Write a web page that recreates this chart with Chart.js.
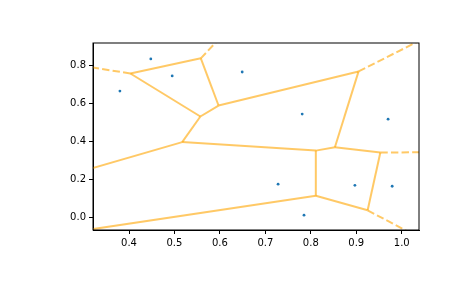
<!DOCTYPE html>
<html>
<head>
<meta charset="utf-8">
<script src="https://cdn.jsdelivr.net/npm/chart.js@4.4.1/dist/chart.umd.min.js"></script>
<style>
    html, body { margin: 0; padding: 0; background: #ffffff; }
    #wrap { width: 465px; height: 288px; position: relative; }
</style>
</head>
<body>
<div id="wrap"><canvas id="voronoi" width="465" height="288"></canvas></div>
<script>
// input points
const pointsX = [0.380, 0.448, 0.495, 0.649, 0.781, 0.970, 0.728, 0.897, 0.979, 0.785];
const pointsY = [0.666, 0.836, 0.746, 0.767, 0.545, 0.518, 0.175, 0.169, 0.164, 0.011];

// voronoi vertices (last two sit outside the view)
const vertexX = [0.403, 0.558, 0.597, 0.557, 0.517, 0.905, 0.853, 0.811, 0.953, 0.811, 0.925, 0.250, 0.250];
const vertexY = [0.759, 0.839, 0.590, 0.532, 0.397, 0.770, 0.370, 0.352, 0.342, 0.114, 0.037, 0.2105, -0.0875];

// finite ridges: pairs of vertex indices
const ridgeFrom = [0, 0, 1, 2, 3, 2, 5, 4, 6, 6, 7, 9, 8, 4, 9];
const ridgeTo   = [1, 3, 2, 3, 4, 5, 6, 7, 7, 8, 9, 10, 10, 11, 12];

// infinite ridges: vertex index + far point
const farFrom = [0, 1, 5, 8, 10];
const farX = [0.250, 0.660, 1.200, 1.200, 1.100];
const farY = [0.818, 1.100, 1.127, 0.345, -0.186];

const xTicks = [0.4, 0.5, 0.6, 0.7, 0.8, 0.9, 1.0];
const yTicks = [0.0, 0.2, 0.4, 0.6, 0.8];

const lineColor = 'rgba(255, 165, 0, 0.6)';

const datasets = [];

datasets.push({
    label: 'points',
    data: pointsX.map((x, i) => ({ x: x, y: pointsY[i] })),
    pointRadius: 1.4,
    pointBackgroundColor: '#1f77b4',
    pointBorderWidth: 0,
    showLine: false,
    order: 2
});

ridgeFrom.forEach((a, i) => {
    const b = ridgeTo[i];
    datasets.push({
        data: [{ x: vertexX[a], y: vertexY[a] }, { x: vertexX[b], y: vertexY[b] }],
        showLine: true,
        borderColor: lineColor,
        borderWidth: 2,
        pointRadius: 0,
        order: 1
    });
});

farFrom.forEach((a, i) => {
    datasets.push({
        data: [{ x: vertexX[a], y: vertexY[a] }, { x: farX[i], y: farY[i] }],
        showLine: true,
        borderColor: lineColor,
        borderWidth: 2,
        borderDash: [7.4, 3.2],
        pointRadius: 0,
        order: 1
    });
});

// top and right spines
const frame = {
    id: 'frame',
    afterDraw(chart) {
        const { ctx, chartArea: a } = chart;
        ctx.save();
        ctx.strokeStyle = '#000000';
        ctx.lineWidth = 1;
        ctx.strokeRect(a.left, a.top, a.right - a.left, a.bottom - a.top);
        ctx.restore();
    }
};

const tickFont = { family: 'DejaVu Sans', size: 10 };

new Chart(document.getElementById('voronoi'), {
    type: 'scatter',
    data: { datasets: datasets },
    options: {
        responsive: false,
        animation: false,
        devicePixelRatio: 1,
        layout: { padding: { top: 43, right: 46, left: 0, bottom: 0 } },
        plugins: { legend: { display: false }, tooltip: { enabled: false } },
        scales: {
            x: {
                type: 'linear',
                min: 0.3208,
                max: 1.038,
                afterBuildTicks: (axis) => { axis.ticks = xTicks.map(v => ({ value: v })); },
                afterFit: (axis) => { axis.height = 58; },
                grid: { drawOnChartArea: false, drawTicks: true, tickLength: 4, color: '#000000' },
                border: { display: true, color: '#000000', width: 1 },
                ticks: { color: '#000000', font: tickFont, padding: 3, maxRotation: 0,
                    callback: (v) => v.toFixed(1) }
            },
            y: {
                type: 'linear',
                min: -0.067,
                max: 0.92,
                afterBuildTicks: (axis) => { axis.ticks = yTicks.map(v => ({ value: v })); },
                afterFit: (axis) => { axis.width = 93; },
                grid: { drawOnChartArea: false, drawTicks: true, tickLength: 4, color: '#000000' },
                border: { display: true, color: '#000000', width: 1 },
                ticks: { color: '#000000', font: tickFont, padding: 3,
                    callback: (v) => v.toFixed(1) }
            }
        }
    },
    plugins: [frame]
});
</script>
</body>
</html>
